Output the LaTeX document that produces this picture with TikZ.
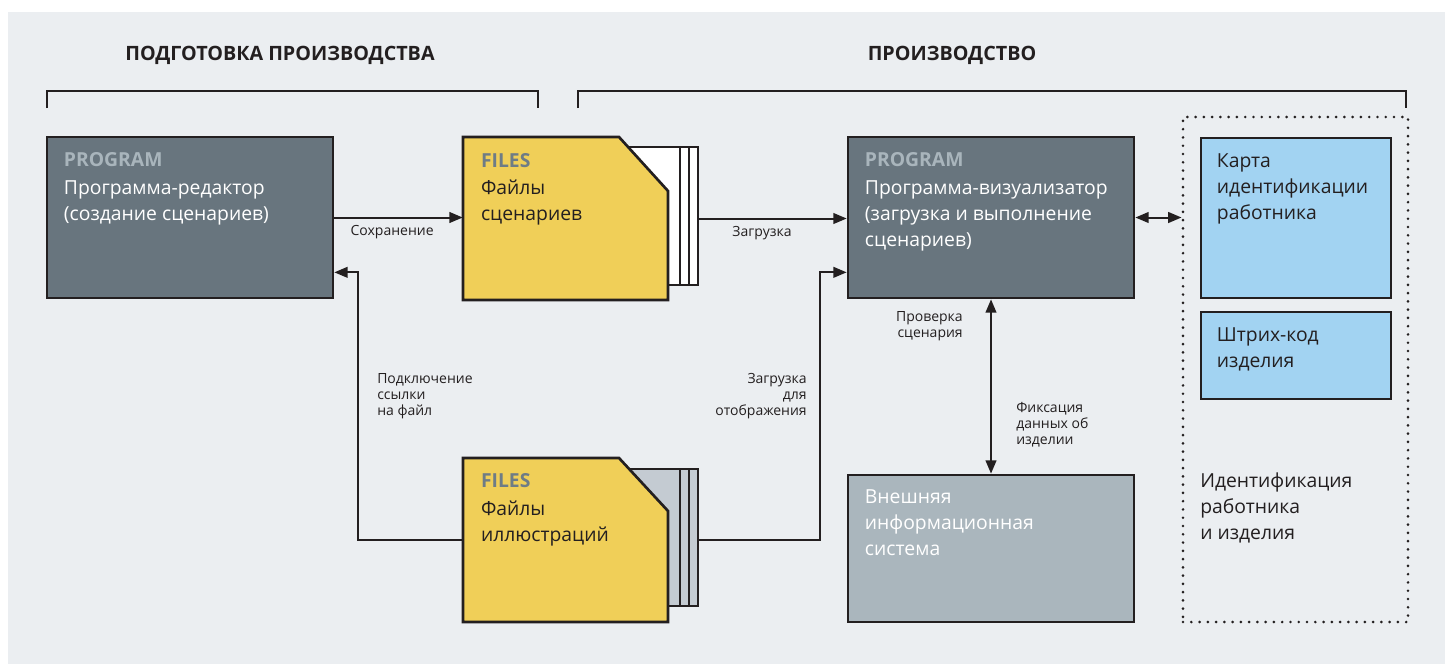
\documentclass[tikz,border=0pt]{standalone}
\usepackage{fontspec}
\setmainfont{Open Sans}
\usepackage{xcolor}
\usepackage{tikz}
\usetikzlibrary{arrows.meta,positioning,fit,calc}
\definecolor{ink}{HTML}{231F20}
\definecolor{paper}{HTML}{EBEEF1}
\definecolor{slate}{HTML}{68757E}
\definecolor{slatelt}{HTML}{A9B5BC}
\definecolor{filey}{HTML}{F0CF58}
\definecolor{filetag}{HTML}{6E7C86}
\definecolor{extgrey}{HTML}{AAB6BD}
\definecolor{cardblue}{HTML}{A2D3F2}
\definecolor{stackgrey}{HTML}{C4CBD2}

\begin{document}
\begin{tikzpicture}[
  x=0.75pt, y=-0.75pt,
  box/.style={draw=ink, line width=2pt, inner sep=0pt},
  hook/.style={fit={#1}, inner sep=0pt},
  txt/.style={anchor=base west, align=left, inner sep=0pt, font=\fontsize{14.5}{19.5}\selectfont},
  tag/.style={txt, font=\fontsize{14.5}{19.5}\selectfont\bfseries},
  lbl/.style={inner sep=0pt, align=left, font=\fontsize{10.5}{12}\selectfont, text=ink},
  head/.style={inner sep=0pt, font=\fontsize{14.8}{16}\selectfont\bfseries, text=ink},
  bracket/.style={line width=1.8pt, color=ink},
  arr/.style={-{Triangle[length=10pt,width=8pt]}, line width=1.5pt, color=ink},
  dblarr/.style={{Triangle[length=10pt,width=8pt]}-{Triangle[length=10pt,width=8pt]}, line width=1.5pt, color=ink}
]
\useasboundingbox (0,0) rectangle (1448,664);
\fill[paper] (8,12) rectangle (1445,664);

% Stage headings
\node[head] (hprep) at (280,55) {ПОДГОТОВКА ПРОИЗВОДСТВА};
\node[head] (hprod) at (952,55) {ПРОИЗВОДСТВО};
\draw[bracket] (47,108) |- (538,91) -- (538,108);
\draw[bracket] (578,108) |- (1406,91) -- (1406,108);

% Editor
\node[box, fill=slate, fit={(47,137) (333,298)}] (ed) {};
\node[tag, text=slatelt] at ($(ed.north west)+(18,31)$) {PROGRAM};
\node[txt, text=white] (edt) at ($(ed.north west)+(18,85)$) {Программа-редактор\\(создание сценариев)};

% Scenario files
\node[hook={(463,137) (698,300)}] (fs) {};
\foreach \r in {698,689,680}
  \draw[box, fill=white] (630,147) rectangle (\r,285);
\draw[box, fill=filey] (463,137) -- (619,137) -- (668,191) -- (668,300) -- (463,300) -- cycle;
\node[tag, text=filetag] at ($(fs.north west)+(18,31)$) {FILES};
\node[txt, text=ink] (fst) at ($(fs.north west)+(18,84)$) {Файлы\\сценариев};

% Illustration files
\node[hook={(463,458) (698,622)}] (fi) {};
\foreach \r in {698,689,680}
  \draw[box, fill=stackgrey] (630,469) rectangle (\r,606);
\draw[box, fill=filey] (463,458) -- (619,458) -- (668,511) -- (668,622) -- (463,622) -- cycle;
\node[tag, text=filetag] at ($(fi.north west)+(18,30)$) {FILES};
\node[txt, text=ink] (fit) at ($(fi.north west)+(18,84)$) {Файлы\\иллюстраций};

% Visualizer
\node[box, fill=slate, fit={(848,137) (1134,298)}] (vz) {};
\node[tag, text=slatelt] at ($(vz.north west)+(18,31)$) {PROGRAM};
\node[txt, text=white] (vzt) at ($(vz.north west)+(18,111)$) {Программа-визуализатор\\(загрузка и выполнение\\сценариев)};

% External system
\node[box, fill=extgrey, fit={(848,475) (1134,622)}] (ex) {};
\node[txt, text=white] (ext) at ($(ex.north west)+(18,82)$) {Внешняя\\информационная\\система};

% Identification
\node[hook={(1183,117) (1408,622)}, draw=ink, line width=2.2pt, dash pattern=on 0pt off 6.2pt, line cap=round] (idf) {};
\node[box, fill=cardblue, fit={(1201,138) (1391,298)}] (card) {};
\node[txt, text=ink] (cardt) at ($(card.north west)+(17,83)$) {Карта\\идентификации\\работника};
\node[box, fill=cardblue, fit={(1201,312) (1391,399)}] (bar) {};
\node[txt, text=ink] (bart) at ($(bar.north west)+(17,57)$) {Штрих-код\\изделия};
\node[txt, text=ink] (idft) at (1200,539) {Идентификация\\работника\\и изделия};

% Connectors
\draw[arr] (ed.east) -- node[lbl, below=5pt, pos=0.45] {Сохранение} (ed.east -| fs.west);
\draw[arr] (fs.east) -- node[lbl, below=5pt, pos=0.43] {Загрузка} (fs.east -| vz.west);
\draw[dblarr] (vz.east) -- (vz.east -| idf.west);
\draw[arr] (fi.west) -- ++(-105,0) |- ($(ed.south east)+(0,-27)$);
\draw[arr] (fi.east) -- ++(122,0) |- ($(vz.south west)+(0,-27)$);
\draw[dblarr] (vz.south) -- (ex.north);

% Connector labels
\node[lbl, anchor=base west] (lnk) at (377,415) {Подключение\\ссылки\\на файл};
\node[lbl, anchor=base east, align=right] (show) at (807,415) {Загрузка\\для\\отображения};
\node[lbl, anchor=base east, align=right] (chk) at (963,337) {Проверка\\сценария};
\node[lbl, anchor=base west] (fix) at (1016,444) {Фиксация\\данных об\\изделии};
\end{tikzpicture}
\end{document}
